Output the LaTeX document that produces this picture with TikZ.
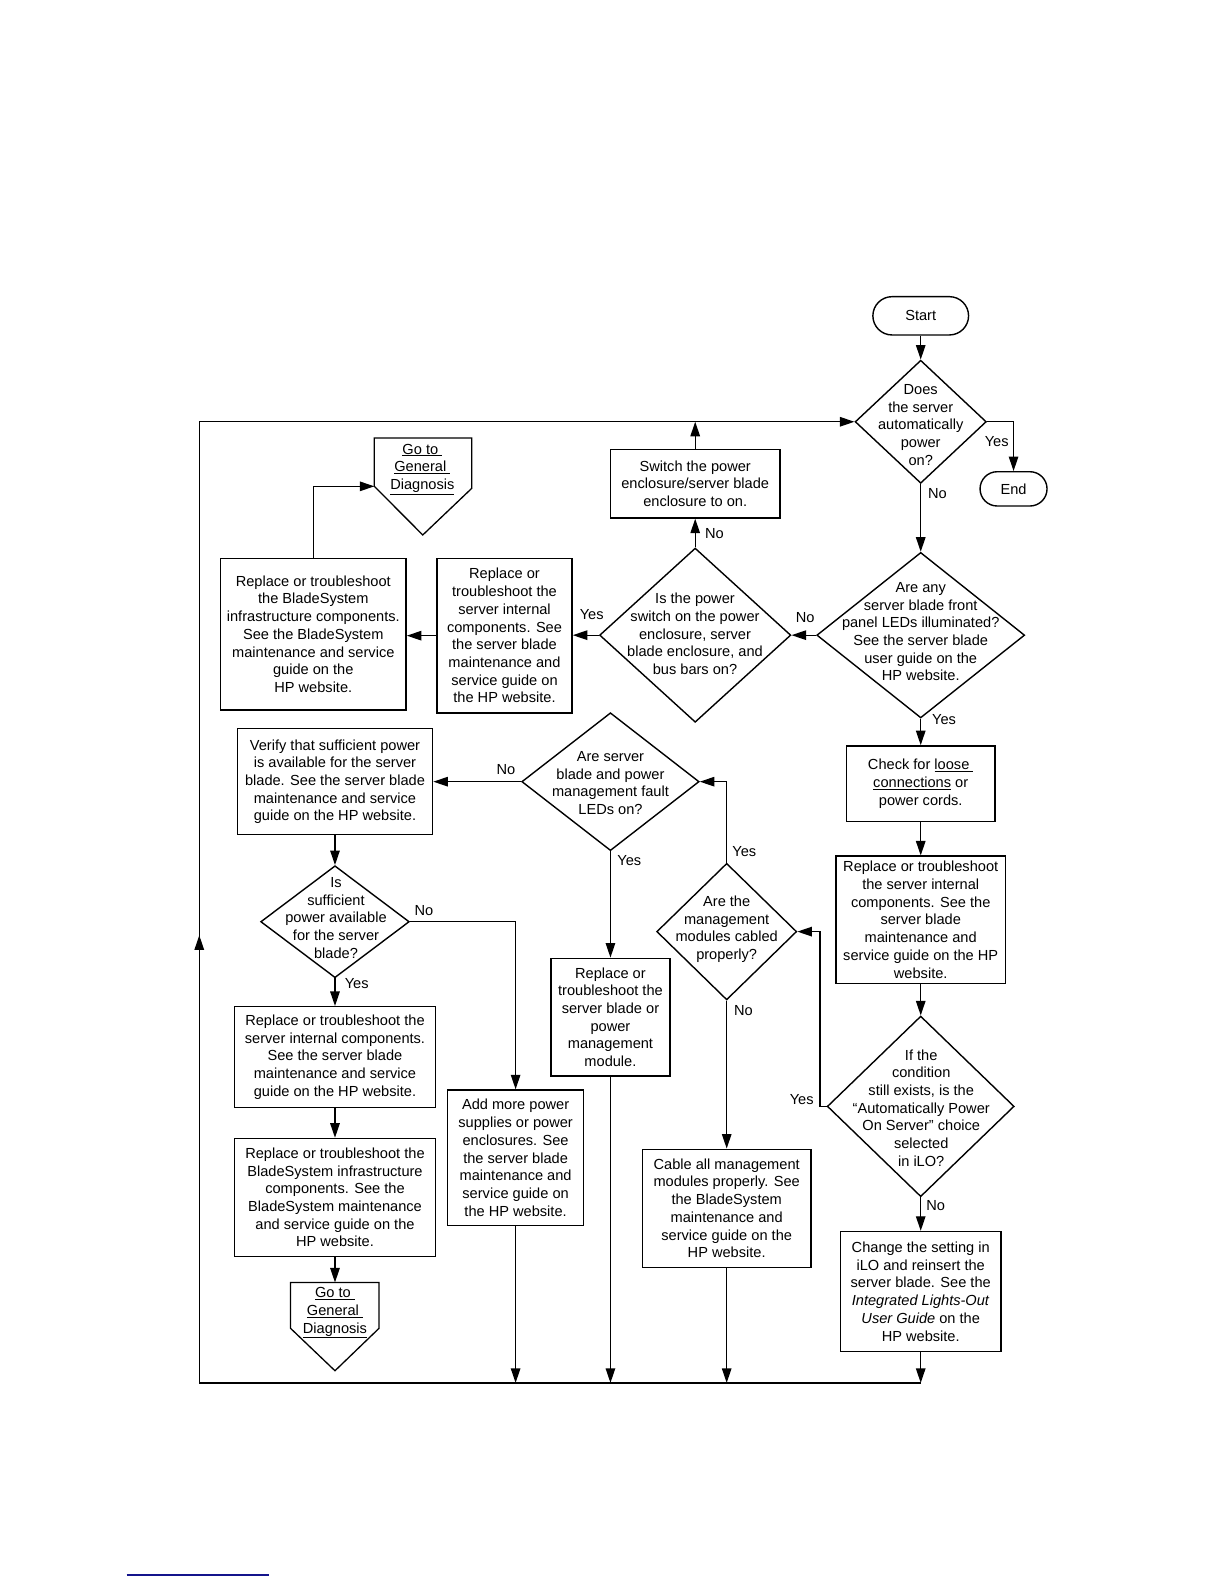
\documentclass[tikz,border=0pt]{standalone}
\usepackage{fontspec}
\setmainfont{Liberation Sans}
\usetikzlibrary{shapes.geometric,shapes.misc,arrows.meta}
\tikzset{
  base/.style={font=\fontsize{14.6}{17.7}\selectfont, align=center},
  box/.style={base, draw, rectangle, line width=1.4pt, inner sep=1.5pt},
  dia/.style={draw, diamond, line width=1.4pt, inner sep=0pt},
  term/.style={base, draw, rounded rectangle, line width=1.4pt, inner sep=1pt},
  txt/.style={base, inner sep=0pt},
  lbl/.style={base, inner sep=0pt},
  conn/.style={line width=1.3pt, -{Triangle[length=14.5pt,width=9.5pt]}},
  wire/.style={line width=1.3pt},
}
\begin{document}
\begin{tikzpicture}[x=1.009pt,y=-1.009pt]
\path[use as bounding box] (0pt,0pt) rectangle (1224pt,-1584pt);

% right column
\node[term, minimum width=97.7pt, minimum height=38.3pt] (start) at (912.5,313) {Start};
\node[dia, minimum width=131.2pt, minimum height=123.1pt] (d1) at (912.5,418) {};
\node[txt] (t1) at (912.5,421) {Does\\the server\\automatically\\power\\on?};
\node[term, minimum width=69pt, minimum height=34.3pt] (endn) at (1004.5,484.5) {End};

\node[dia, minimum width=207.9pt, minimum height=165.5pt] (d2) at (912.5,629.5) {};
\node[txt] (t2) at (912.5,626) {Are any\\server blade front\\panel LEDs illuminated?\\See the server blade\\user guide on the\\HP website.};

\node[dia, minimum width=191.3pt, minimum height=174.2pt] (d3) at (689,629.5) {};
\node[txt] (t3) at (688.8,628.4) {Is the power\\switch on the power\\enclosure, server\\blade enclosure, and\\bus bars on?};

\node[box, minimum width=169.5pt, minimum height=68.6pt] (sw) at (689,479.4) {Switch the power\\enclosure/server blade\\enclosure to on.};

\node[box, minimum width=135.2pt, minimum height=154.4pt] (si1) at (500,630) {Replace or\\troubleshoot the\\server internal\\components. See\\the server blade\\maintenance and\\service guide on\\the HP website.};

\node[box, minimum width=185.7pt, minimum height=151.4pt] (bs1) at (310.5,628.5) {Replace or troubleshoot\\the BladeSystem\\infrastructure components.\\See the BladeSystem\\maintenance and service\\guide on the\\HP website.};

% go to 1
\coordinate (g1w) at (371,482);
\draw[wire] (371,434) -- (467.5,434) -- (467.5,484) -- (419,530.2) -- (g1w) -- cycle;
\node[txt] (g1) at (418.6,465) {\underline{Go to }\\\underline{General }\\\underline{Diagnosis}};

\node[box, minimum width=148.3pt, minimum height=75.7pt] (chk) at (912.5,776.7) {Check for \underline{loose }\\\underline{connections} or\\power cords.};
\node[box, minimum width=169.5pt, minimum height=127.1pt] (ri2) at (912.5,911.5) {Replace or troubleshoot\\the server internal\\components. See the\\server blade\\maintenance and\\service guide on the HP\\website.};
\node[dia, minimum width=186.9pt, minimum height=180.6pt] (d4) at (912.5,1096.5) {};
\node[txt] (t4) at (913,1098) {If the\\condition\\still exists, is the\\“Automatically Power\\On Server” choice\\selected\\in iLO?};
\node[box, minimum width=160.4pt, minimum height=120.1pt] (cs) at (912.5,1280) {Change the setting in\\iLO and reinsert the\\server blade. See the\\\textit{Integrated Lights-Out}\\\textit{User Guide} on the\\HP website.};

% middle
\node[dia, minimum width=140pt, minimum height=136.6pt] (d5) at (720.2,923.3) {};
\node[txt] (t5) at (720.2,920.9) {Are the\\management\\modules cabled\\properly?};
\node[box, minimum width=168.9pt, minimum height=118.1pt] (cab) at (720.2,1197.5) {Cable all management\\modules properly. See\\the BladeSystem\\maintenance and\\service guide on the\\HP website.};

\node[dia, minimum width=177.4pt, minimum height=137.9pt] (d6) at (605,774.7) {};
\node[txt] (t6) at (605,776) {Are server\\blade and power\\management fault\\LEDs on?};
\node[box, minimum width=119.1pt, minimum height=117.6pt] (rsb) at (605,1008) {Replace or\\troubleshoot the\\server blade or\\power\\management\\module.};

% left
\node[box, minimum width=195.3pt, minimum height=105.9pt] (ver) at (332,774.7) {Verify that sufficient power\\is available for the server\\blade. See the server blade\\maintenance and service\\guide on the HP website.};
\node[dia, minimum width=148.6pt, minimum height=112pt] (d7) at (332,913.5) {};
\node[txt] (t7) at (333,909.7) {Is\\sufficient\\power available\\for the server\\blade?};
\node[box, minimum width=200.8pt, minimum height=100.9pt] (ri3) at (332,1047.7) {Replace or troubleshoot the\\server internal components.\\See the server blade\\maintenance and service\\guide on the HP website.};
\node[box, minimum width=200.8pt, minimum height=118.1pt] (bs2) at (332,1186.8) {Replace or troubleshoot the\\BladeSystem infrastructure\\components. See the\\BladeSystem maintenance\\and service guide on the\\HP website.};

% go to 2
\coordinate (g2n) at (332,1271);
\draw[wire] (288,1271) -- (375.6,1271) -- (375.6,1316.5) -- (332,1358.5) -- (288,1316.5) -- cycle;
\node[txt] (g2) at (332,1301) {\underline{Go to }\\\underline{General }\\\underline{Diagnosis}};

\node[box, minimum width=136pt, minimum height=135.7pt] (add) at (511,1147.5) {Add more power\\supplies or power\\enclosures. See\\the server blade\\maintenance and\\service guide on\\the HP website.};

% loop coordinates
\coordinate (bl) at (197.5,1370.5);
\coordinate (br) at (912.5,1370.5);
\coordinate (tl) at (197.5,418);
\coordinate (la) at (197.5,927);

% connectors
\draw[conn] (start.south) -- (d1.north);
\draw[conn] (d1.east) -| (endn.north);
\draw[conn] (d1.south) -- (d2.north);
\draw[conn] (d2.west) -- (d3.east);
\draw[conn] (d3.north) -- (sw.south);
\draw[conn] (sw.north) -- (sw.north |- tl);
\draw[conn] (d3.west) -- (d3.west -| si1.east);
\draw[conn] (si1.west) -- (si1.west -| bs1.east);
\draw[conn] (bs1.north) |- (g1w);
\draw[conn] (d2.south) -- (chk.north);
\draw[conn] (chk.south) -- (ri2.north);
\draw[conn] (ri2.south) -- (d4.north);
\draw[conn] (d4.south) -- (cs.north);
\draw[conn] (cs.south) -- (br);
\draw[conn] (d4.west) -- ++(-6.5,0) |- (d5.east);
\draw[conn] (d5.north) |- (d6.east);
\draw[conn] (d5.south) -- (cab.north);
\draw[conn] (cab.south) -- (cab.south |- bl);
\draw[conn] (d6.west) -- (ver.east);
\draw[conn] (d6.south) -- (rsb.north);
\draw[conn] (rsb.south) -- (rsb.south |- bl);
\draw[conn] (ver.south) -- (d7.north);
\draw[conn] (d7.east) -| (add.north);
\draw[conn] (d7.south) -- (ri3.north);
\draw[conn] (ri3.south) -- (bs2.north);
\draw[conn] (bs2.south) -- (g2n);
\draw[conn] (add.south) -- (add.south |- bl);
\draw[wire] (br) -- (bl) -- (tl);
\draw[conn] (tl) -- (d1.west);
\draw[conn] (bl) -- (la);

% labels
\node[lbl] (y1) at (987.8,437.7) {Yes};
\node[lbl] (n1) at (929,489) {No};
\node[lbl] (n3) at (708,528.6) {No};
\node[lbl] (n2) at (798,611.8) {No};
\node[lbl] (y3) at (586.4,609.5) {Yes};
\node[lbl] (y2) at (935.6,712.9) {Yes};
\node[lbl] (n6) at (501.5,762.5) {No};
\node[lbl] (y6) at (623.7,853) {Yes};
\node[lbl] (n7) at (420.2,902.6) {No};
\node[lbl] (y7) at (353.5,974.5) {Yes};
\node[lbl] (y5) at (737.7,844.1) {Yes};
\node[lbl] (n5) at (736.7,1002) {No};
\node[lbl] (y4) at (794.5,1089.5) {Yes};
\node[lbl] (n4) at (927.3,1195) {No};

% footnote rule
\draw[color={rgb,255:red,20;green,20;blue,140}, line width=1.5pt] (125.6,1561) -- (266.6,1561);
\end{tikzpicture}
\end{document}
